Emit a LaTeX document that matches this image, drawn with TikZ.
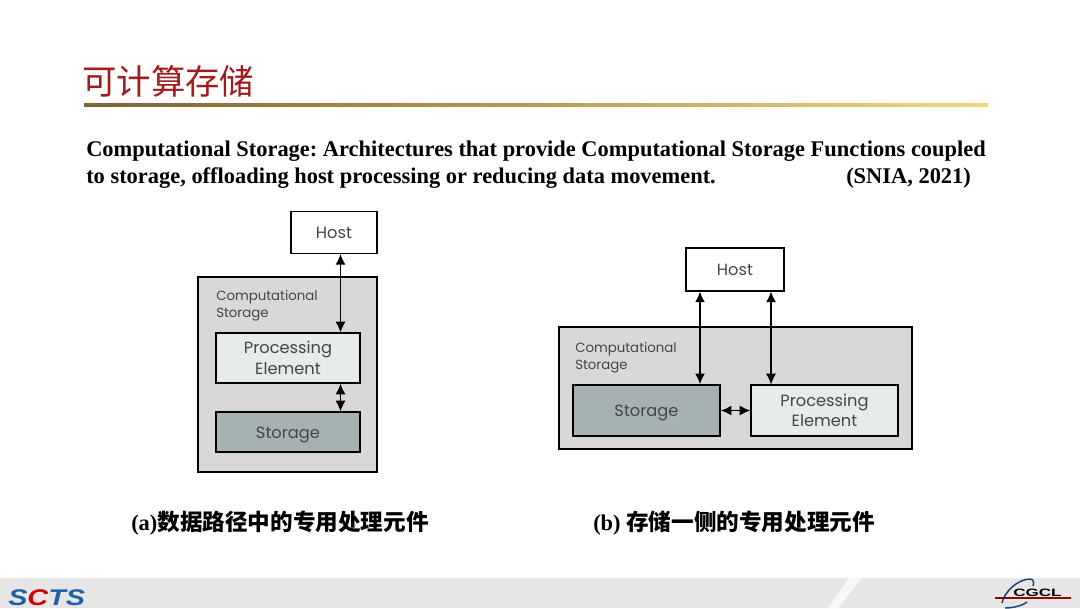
\documentclass[tikz,border=0pt]{standalone}
\usepackage{fontspec}
\usepackage{xcolor}
\usetikzlibrary{arrows.meta}
\setmainfont{Liberation Serif}
\newfontfamily\cjkfont{Noto Sans CJK SC}
\newfontfamily\labelfont{Poppins}
\newfontfamily\logofont[FakeStretch=1.27]{Liberation Sans}
\newfontfamily\logowide[FakeStretch=1.6]{Liberation Sans}
\frenchspacing

\definecolor{titlered}{HTML}{A01C1E}
\definecolor{rulebrown}{HTML}{7D6234}
\definecolor{rulegold}{HTML}{F3D77F}
\definecolor{outergrey}{HTML}{D8D8D8}
\definecolor{peblue}{HTML}{E7EBEB}
\definecolor{storegrey}{HTML}{A6B1B1}
\definecolor{labelgrey}{HTML}{454545}
\definecolor{bandgrey}{HTML}{E6E6E6}
\definecolor{logoblue}{HTML}{1F5FA8}
\definecolor{logonavy}{HTML}{1C3F78}

\tikzset{
	bodytext/.style={anchor=base west, inner sep=0pt, font=\fontsize{16.82}{20}\selectfont\bfseries},
	captiontext/.style={anchor=west, inner sep=0pt, font=\fontsize{16.82}{20}\selectfont\bfseries},
	boxlabel/.style={draw=black, text=labelgrey, align=center, inner sep=0pt,
		font=\labelfont\fontsize{12.2}{15.5}\selectfont},
	hostbox/.style={boxlabel, fill=white, line width=0.8pt},
	pebox/.style={boxlabel, fill=peblue, line width=0.9pt, execute at begin node={\rule{0pt}{14.5pt}}},
	storebox/.style={boxlabel, fill=storegrey, line width=0.9pt, execute at begin node={\rule{0pt}{12.5pt}}},
	outerbox/.style={draw=black, fill=outergrey, line width=2pt, inner sep=0pt},
	outerlabel/.style={anchor=north west, align=left, inner sep=0pt, text=labelgrey,
		font=\labelfont\fontsize{10}{12.2}\selectfont},
	twoway/.style={{Latex[length=8pt,width=7.5pt]}-{Latex[length=8pt,width=7.5pt]}, line width=0.9pt},
}

\begin{document}
\begin{tikzpicture}[x=0.75pt, y=-0.75pt]
	\useasboundingbox (0,0) rectangle (1080,608);
	\fill[white] (0,0) rectangle (1080,608);

	% --- Title and rule ---
	\node[anchor=west, inner sep=0pt, text=titlered, font=\cjkfont\fontsize{25.8}{30}\selectfont]
		(title) at (82,81) {可计算存储};
	\shade[left color=rulebrown, right color=rulegold] (84,103.5) rectangle (988,106.5);

	% --- Definition text ---
	\node[bodytext] (defa) at (86,156.5) {Computational Storage: Architectures that provide Computational Storage Functions coupled};
	\node[bodytext] (defb) at (86,183.5) {to storage, offloading host processing or reducing data movement.};
	\node[bodytext] (defc) at (846,183.5) {(SNIA, 2021)};

	% --- Diagram (a) ---
	\node[outerbox, minimum width=134.25pt, minimum height=146.25pt] (outera) at (287.5,374.5) {};
	\node[outerlabel] (oclabela) at (216,290.5) {Computational\\Storage};
	\node[hostbox, minimum width=64.5pt, minimum height=31.5pt] (hosta) at (334,232.5) {Host};
	\node[pebox, minimum width=108pt, minimum height=37.5pt] (pea) at (288,358) {Processing\\Element};
	\node[storebox, minimum width=108pt, minimum height=30pt] (storea) at (288,432) {Storage};
	\coordinate (linka) at (340.5,300);
	\draw[twoway] (hosta.south -| linka) -- (pea.north -| linka);
	\draw[twoway] (pea.south -| linka) -- (storea.north -| linka);

	% --- Diagram (b) ---
	\node[outerbox, minimum width=264.75pt, minimum height=91.5pt] (outerb) at (735.5,388) {};
	\node[outerlabel] (oclabelb) at (575,342.5) {Computational\\Storage};
	\node[hostbox, minimum width=73.5pt, minimum height=32.25pt] (hostb) at (735,269.5) {Host};
	\node[storebox, line width=1.2pt, minimum width=110.25pt, minimum height=38.25pt] (storeb) at (646.5,410.5) {Storage};
	\node[pebox, minimum width=110.25pt, minimum height=38.25pt] (peb) at (824.5,410.5) {Processing\\Element};
	\coordinate (linkb) at (700,300);
	\coordinate (linkc) at (771,300);
	\draw[twoway, line width=1.2pt] (hostb.south -| linkb) -- (storeb.north -| linkb);
	\draw[twoway] (hostb.south -| linkc) -- (peb.north -| linkc);
	\draw[twoway, line width=1.2pt] (storeb.east) -- (peb.west);

	% --- Captions ---
	\node[captiontext] (capa) at (131,523) {(a){\cjkfont\fontsize{16.95}{20}\selectfont 数据路径中的专用处理元件}};
	\node[captiontext] (capb) at (593,523) {(b) {\cjkfont\fontsize{16.95}{20}\selectfont 存储一侧的专用处理元件}};

	% --- Footer band ---
	\fill[bandgrey] (0,578) rectangle (1080,608);
	\fill[white!70!bandgrey] (849,578) -- (862,578) -- (838,608) -- (828,608) -- cycle;

	% --- Logos ---
	\node[anchor=west, inner sep=0pt, font=\logofont\fontsize{17}{17}\selectfont\bfseries\itshape, text=logoblue]
		(logoa) at (8,597.5) {S{\color{red!80!black}C}TS};
	\draw[logonavy, line width=1.1pt] (1002,603) .. controls (1004,592) and (1018,579) .. (1030,579) .. controls (1034,579) and (1034,583) .. (1033,586);
	\draw[logonavy, line width=1.1pt] (1005,608) .. controls (1012,608) and (1022,606) .. (1027,602);
	\draw[red!60!black, line width=0.8pt] (995,598) -- (1071,598);
	\node[anchor=west, inner sep=0pt, font=\logowide\fontsize{8}{8}\selectfont\bfseries]
		(logob) at (1013,592.5) {CGCL};
\end{tikzpicture}
\end{document}
